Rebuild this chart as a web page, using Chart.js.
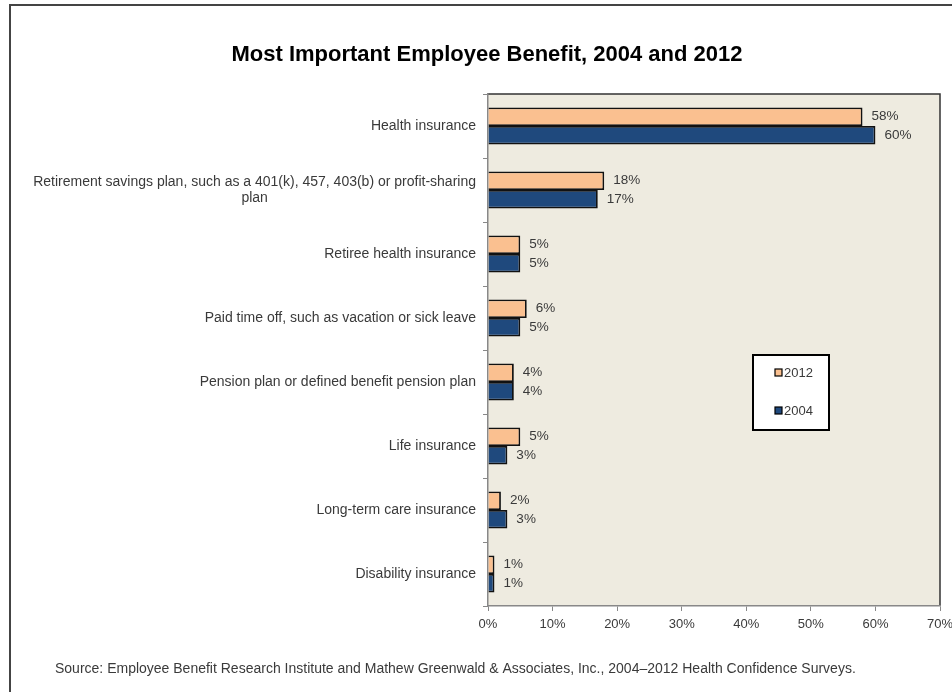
<!DOCTYPE html>
<html>
<head>
<meta charset="utf-8">
<script src="https://cdn.jsdelivr.net/npm/chart.js@4.4.0/dist/chart.umd.min.js"></script>
<style>
  body { margin: 0; background: #fff; }
  #wrap { position: relative; width: 952px; height: 692px; }
  #frame { position: absolute; left: 9px; top: 4px; right: -4px; bottom: -4px;
           border-left: 2px solid #444; border-top: 2px solid #444; pointer-events: none; }
</style>
</head>
<body>
<div id="wrap">
  <canvas id="grafico" width="952" height="692"></canvas>
  <div id="frame"></div>
</div>
<script>
const titulo = 'Most Important Employee Benefit, 2004 and 2012';
const fonte = 'Source: Employee Benefit Research Institute and Mathew Greenwald & Associates, Inc., 2004\u20132012 Health Confidence Surveys.';

const categorias = [
    'Health insurance',
    ['Retirement savings plan, such as a 401(k), 457, 403(b) or profit-sharing', 'plan'],
    'Retiree health insurance',
    'Paid time off, such as vacation or sick leave',
    'Pension plan or defined benefit pension plan',
    'Life insurance',
    'Long-term care insurance',
    'Disability insurance'
];
const anos = ['2012', '2004'];
const valores2012 = [58, 18, 5, 6, 4, 5, 2, 1];
const valores2004 = [60, 17, 5, 5, 4, 3, 3, 1];
const ticksX = [0, 10, 20, 30, 40, 50, 60, 70];

const corTexto = '#3a3a3a';
const FONTE = 'Arial, "Liberation Sans", sans-serif';

// fundo bege da area do grafico + moldura
const fundoArea = {
    id: 'fundoArea',
    beforeDraw(chart) {
        const { ctx, chartArea: a } = chart;
        ctx.save();
        ctx.fillStyle = '#eeebe0';
        ctx.fillRect(a.left, a.top, a.right - a.left, a.bottom - a.top);
        ctx.strokeStyle = '#333';
        ctx.lineWidth = 1.5;
        ctx.beginPath();
        ctx.moveTo(a.left, a.top);
        ctx.lineTo(a.right, a.top);
        ctx.lineTo(a.right, a.bottom);
        ctx.stroke();
        ctx.restore();
    }
};

// rotulos das categorias, rotulos das barras, legenda, titulo e fonte
const textos = {
    id: 'textos',
    afterDraw(chart) {
        const { ctx } = chart;
        const y = chart.scales.y;
        ctx.save();

        ctx.fillStyle = '#000';
        ctx.font = 'bold 22px ' + FONTE;
        ctx.textAlign = 'center';
        ctx.textBaseline = 'middle';
        ctx.fillText(titulo, 487, 55);

        ctx.font = '14px ' + FONTE;
        ctx.fillStyle = corTexto;
        categorias.forEach((c, i) => {
            const linhas = Array.isArray(c) ? c : [c];
            const larg = Math.max(...linhas.map(l => ctx.measureText(l).width));
            const cx = 476 - larg / 2;
            const cy = y.getPixelForValue(i);
            linhas.forEach((l, j) => {
                ctx.fillText(l, cx, cy + (j - (linhas.length - 1) / 2) * 16);
            });
        });

        ctx.font = '13.5px ' + FONTE;
        ctx.textAlign = 'left';
        chart.data.datasets.forEach((ds, d) => {
            chart.getDatasetMeta(d).data.forEach((bar, i) => {
                ctx.fillText(ds.data[i] + '%', bar.x + 9, bar.y);
            });
        });

        // legenda
        ctx.fillStyle = '#fff';
        ctx.fillRect(753, 355, 76, 75);
        ctx.strokeStyle = '#000';
        ctx.lineWidth = 2;
        ctx.strokeRect(753, 355, 76, 75);
        ctx.font = '13px ' + FONTE;
        chart.data.datasets.forEach((ds, d) => {
            const ly = 373 + d * 38;
            ctx.fillStyle = ds.backgroundColor;
            ctx.fillRect(775, ly - 4, 7, 7);
            ctx.lineWidth = 1.2;
            ctx.strokeRect(775, ly - 4, 7, 7);
            ctx.fillStyle = corTexto;
            ctx.fillText(ds.label, 784, ly);
        });

        ctx.font = '14px ' + FONTE;
        ctx.fillText(fonte, 55, 669);
        ctx.restore();
    }
};

new Chart(document.getElementById('grafico'), {
    type: 'bar',
    data: {
        labels: categorias,
        datasets: [
            { label: anos[0], data: valores2012, backgroundColor: '#fac090', borderColor: '#111', borderWidth: 1.8, borderSkipped: 'left' },
            { label: anos[1], data: valores2004, backgroundColor: '#1f497d', borderColor: '#111', borderWidth: 1.8, borderSkipped: 'left' }
        ]
    },
    options: {
        indexAxis: 'y',
        responsive: false,
        animation: false,
        devicePixelRatio: 1,
        layout: { padding: { left: 10, right: 12, top: 94, bottom: 56 } },
        datasets: { bar: { categoryPercentage: 0.58, barPercentage: 1 } },
        plugins: { legend: { display: false }, title: { display: false }, tooltip: { enabled: false } },
        scales: {
            x: {
                min: 0, max: 70,
                afterBuildTicks: s => { s.ticks = ticksX.map(v => ({ value: v })); },
                afterFit: s => { s.height = 30; s.paddingRight = 0; s.paddingLeft = 0; },
                border: { color: '#888', width: 1.5 },
                grid: { drawOnChartArea: false, tickLength: 5, color: '#888' },
                ticks: { color: corTexto, font: { family: FONTE, size: 13 }, padding: 6, callback: v => v + '%' }
            },
            y: {
                afterFit: s => { s.width = 478; },
                border: { color: '#888', width: 1.5 },
                grid: { drawOnChartArea: false, tickLength: 5, color: '#888', offset: true },
                ticks: { display: false }
            }
        }
    },
    plugins: [fundoArea, textos]
});
</script>
</body>
</html>
